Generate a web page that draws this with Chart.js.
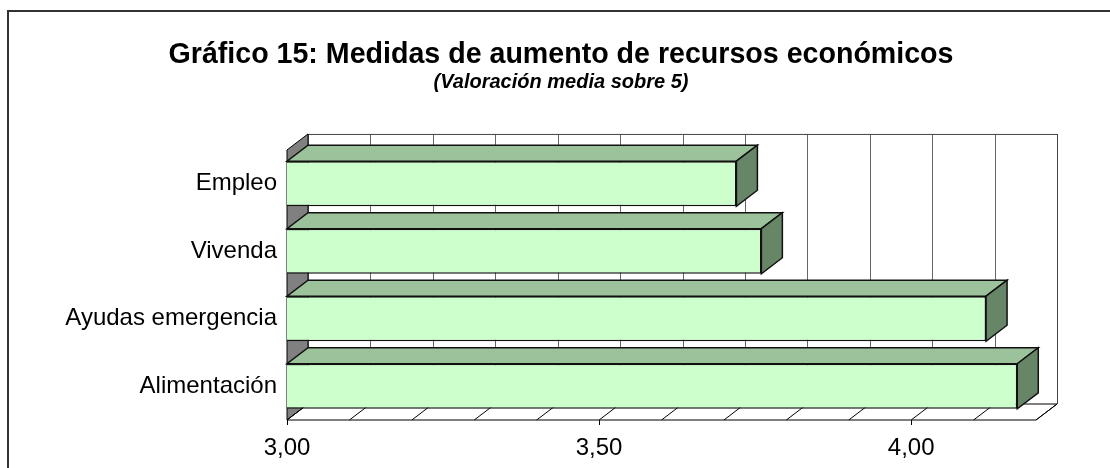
<!DOCTYPE html>
<html>
<head>
    <meta charset="utf-8">
    <title>Gráfico 15</title>
    <script src="https://cdn.jsdelivr.net/npm/chart.js@4.4.1/dist/chart.umd.min.js"></script>
    <style>
        body { margin: 0; background: #fff; }
        #chart15 { display: block; }
    </style>
</head>
<body>
    <canvas id="chart15" width="1110" height="468"></canvas>

    <script>
        // datos
        const categorias = ["Empleo", "Vivenda", "Ayudas emergencia", "Alimentación"];
        const valoraciones = [3.72, 3.76, 4.12, 4.17];
        const ejeMin = 3.0;
        const ejeMax = 4.2;
        const ejeLabels = [3.0, 3.5, 4.0];

        const FONT = "'Liberation Sans', Arial, sans-serif";
        const DX = 21, DY = 16;   // profundidad del efecto 3D

        function fmt(v) {
            return v.toFixed(2).replace(".", ",");
        }

        const marco = {
            id: "marco",
            beforeDraw(chart) {
                const ctx = chart.ctx;
                ctx.save();
                ctx.fillStyle = "#fff";
                ctx.fillRect(0, 0, chart.width, chart.height);
                ctx.strokeStyle = "#333";
                ctx.lineWidth = 2;
                ctx.strokeRect(8, 11, chart.width + 20, chart.height + 20);
                ctx.restore();
            }
        };

        const tresD = {
            id: "tresD",
            beforeDatasetsDraw(chart) {
                const ctx = chart.ctx;
                const ca = chart.chartArea;
                const xs = chart.scales.x;
                ctx.save();

                // pared del fondo
                ctx.fillStyle = "#fff";
                ctx.fillRect(ca.left + DX, ca.top - DY, ca.right - ca.left, ca.bottom - ca.top);
                ctx.strokeStyle = "#666";
                ctx.lineWidth = 1;
                xs.ticks.forEach(t => {
                    const px = Math.round(xs.getPixelForValue(t.value) + DX) + 0.5;
                    ctx.beginPath();
                    ctx.moveTo(px, ca.top - DY);
                    ctx.lineTo(px, ca.bottom - DY);
                    ctx.stroke();
                });
                ctx.strokeStyle = "#444";
                ctx.beginPath();
                ctx.moveTo(ca.left + DX, ca.top - DY + 0.5);
                ctx.lineTo(ca.right + DX + 0.5, ca.top - DY + 0.5);
                ctx.lineTo(ca.right + DX + 0.5, ca.bottom - DY);
                ctx.stroke();

                // pared lateral
                ctx.fillStyle = "#808080";
                ctx.strokeStyle = "#000";
                ctx.beginPath();
                ctx.moveTo(ca.left, ca.top);
                ctx.lineTo(ca.left + DX, ca.top - DY);
                ctx.lineTo(ca.left + DX, ca.bottom - DY);
                ctx.lineTo(ca.left, ca.bottom);
                ctx.closePath();
                ctx.fill();
                ctx.stroke();

                // suelo
                ctx.fillStyle = "#fff";
                ctx.beginPath();
                ctx.moveTo(ca.left, ca.bottom);
                ctx.lineTo(ca.right, ca.bottom);
                ctx.lineTo(ca.right + DX, ca.bottom - DY);
                ctx.lineTo(ca.left + DX, ca.bottom - DY);
                ctx.closePath();
                ctx.fill();
                ctx.stroke();
                xs.ticks.forEach(t => {
                    const px = xs.getPixelForValue(t.value);
                    ctx.beginPath();
                    ctx.moveTo(px, ca.bottom);
                    ctx.lineTo(px + DX, ca.bottom - DY);
                    ctx.stroke();
                });
                ejeLabels.forEach(v => {
                    const px = Math.round(xs.getPixelForValue(v)) + 0.5;
                    ctx.beginPath();
                    ctx.moveTo(px, ca.bottom);
                    ctx.lineTo(px, ca.bottom + 5);
                    ctx.stroke();
                });

                // caras superior y lateral de las barras
                const meta = chart.getDatasetMeta(0);
                ctx.lineWidth = 1.5;
                ctx.strokeStyle = "#111";
                meta.data.forEach(bar => {
                    const p = bar.getProps(["x", "y", "base", "height"], true);
                    const top = p.y - p.height / 2;
                    const bottom = p.y + p.height / 2;
                    ctx.fillStyle = "#9BC29B";
                    ctx.beginPath();
                    ctx.moveTo(p.base, top);
                    ctx.lineTo(p.x, top);
                    ctx.lineTo(p.x + DX, top - DY);
                    ctx.lineTo(p.base + DX, top - DY);
                    ctx.closePath();
                    ctx.fill();
                    ctx.stroke();
                    ctx.fillStyle = "#678567";
                    ctx.beginPath();
                    ctx.moveTo(p.x, top);
                    ctx.lineTo(p.x + DX, top - DY);
                    ctx.lineTo(p.x + DX, bottom - DY);
                    ctx.lineTo(p.x, bottom);
                    ctx.closePath();
                    ctx.fill();
                    ctx.stroke();
                });
                ctx.restore();
            }
        };

        new Chart(document.getElementById("chart15"), {
            type: "bar",
            data: {
                labels: categorias,
                datasets: [{
                    data: valoraciones,
                    base: ejeMin,
                    backgroundColor: "#CCFFCC",
                    borderColor: "#111",
                    borderWidth: 1.5,
                    barPercentage: 0.667,
                    categoryPercentage: 1
                }]
            },
            options: {
                indexAxis: "y",
                responsive: false,
                animation: false,
                devicePixelRatio: 1,
                layout: { padding: { left: 12, right: 0, top: 0, bottom: 0 } },
                plugins: {
                    legend: { display: false },
                    tooltip: { enabled: false },
                    title: {
                        display: true,
                        text: "Gráfico 15: Medidas de aumento de recursos económicos",
                        color: "#000",
                        font: { family: FONT, size: 28.6, weight: "bold", lineHeight: 1.1 },
                        padding: { top: 39, bottom: 0 }
                    },
                    subtitle: {
                        display: true,
                        text: "(Valoración media sobre 5)",
                        color: "#000",
                        font: { family: FONT, size: 20, weight: "bold", style: "italic" },
                        padding: { top: 0, bottom: 55.5 }
                    }
                },
                scales: {
                    x: {
                        min: ejeMin,
                        max: ejeMax,
                        grid: { display: false },
                        border: { display: false },
                        ticks: {
                            stepSize: 0.1,
                            autoSkip: false,
                            maxRotation: 0,
                            padding: 6,
                            color: "#000",
                            font: { family: FONT, size: 24 },
                            callback: function (v) {
                                return ejeLabels.some(e => Math.abs(e - v) < 1e-6) ? fmt(v) : "";
                            }
                        },
                        afterFit: function (scale) { scale.height = 48; }
                    },
                    y: {
                        grid: { display: false },
                        border: { display: false },
                        ticks: {
                            padding: 2,
                            color: "#000",
                            font: { family: FONT, size: 24 }
                        },
                        afterFit: function (scale) { scale.width = 275; }
                    },
                    // hueco a la derecha para la profundidad 3D
                    yDer: {
                        type: "linear",
                        position: "right",
                        grid: { display: false },
                        border: { display: false },
                        ticks: { display: false },
                        afterFit: function (scale) { scale.width = 74; }
                    }
                }
            },
            plugins: [marco, tresD]
        });
    </script>
</body>
</html>
